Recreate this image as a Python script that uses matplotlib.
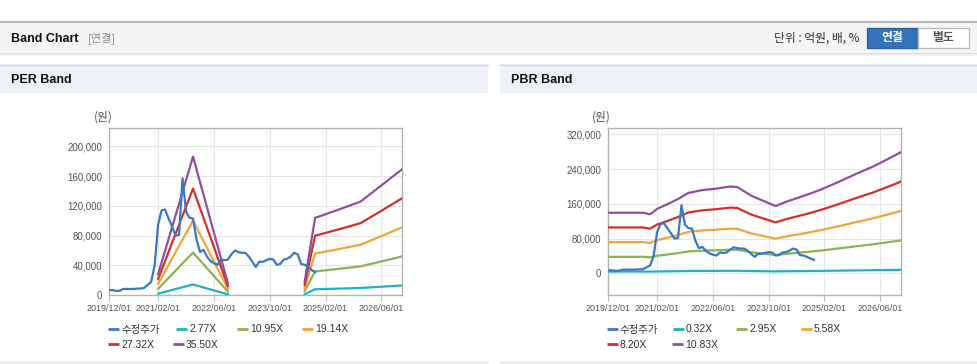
import matplotlib
matplotlib.use('Agg')
import matplotlib.pyplot as plt
import numpy as np
from matplotlib.patches import Rectangle
from matplotlib.ticker import FuncFormatter

plt.rcParams['font.family'] = ['Liberation Sans', 'Noto Sans CJK KR', 'DejaVu Sans']

W, H = 978, 364

# ---------------- data ----------------
# month index: 0 = 2019/12
price_months = list(range(0, 60))
price = [7000, 7000, 6000, 6000, 8500, 8500, 8500, 8500, 9000, 9000,
         10000, 14000, 18000, 40000, 95000, 114000, 115000, 103000, 92000, 80000,
         81000, 157000, 112000, 104000, 103000, 75000, 58000, 61000, 52000, 46000,
         43000, 41000, 48000, 47000, 48000, 55000, 60000, 58000, 57000, 57000,
         52000, 45000, 38000, 45000, 45000, 47000, 49000, 48000, 41000, 42000,
         48000, 49000, 52000, 57000, 55000, 42000, 41000, 38000, 34000, 31000]

tick_months = [0, 14, 30, 46, 62, 78]
tick_labels = ['2019/12/01', '2021/02/01', '2022/06/01', '2023/10/01', '2025/02/01', '2026/06/01']

eps_months = [14, 24, 34, 45, 56, 59, 60, 66, 72, 78, 84]
eps = [800, 5240, 450, np.nan, 510, 2930, 2970, 3250, 3540, 4150, 4770]
per_multiples = [2.77, 10.95, 19.14, 27.32, 35.50]

bps_months = [0, 10, 12, 14, 17, 20, 23, 27, 31, 35, 37, 41, 48, 51, 57, 61, 66, 71, 76, 80, 84]
bps = [12880, 12880, 12550, 13700, 14700, 15800, 17100, 17700, 18000, 18450, 18350, 16500,
       14300, 15200, 16700, 17800, 19400, 21100, 22700, 24200, 25750]
pbr_multiples = [0.32, 2.95, 5.58, 8.20, 10.83]

price_label = '수정주가'
band_colors = ['#1fb1c6', '#8cb352', '#f4a53a', '#d42f2a', '#924f9e']
price_color = '#3a77c9'

KR = ['Noto Sans CJK KR', 'DejaVu Sans']

fig = plt.figure(figsize=(W / 100, H / 100), dpi=100)
fig.patch.set_facecolor('white')

# overlay in pixel coords
ov = fig.add_axes([0, 0, 1, 1], zorder=0)
ov.set_xlim(0, W)
ov.set_ylim(H, 0)
ov.axis('off')

# header bar
ov.add_patch(Rectangle((0, 21), W, 31, fc='#f5f5f5', ec='none'))
ov.plot([0, W], [21.5, 21.5], color='#b9b9b9', lw=1.5)
ov.plot([0, W], [52.5, 52.5], color='#dcdcdc', lw=1)
ov.add_patch(Rectangle((0, 53), W, 3, fc='#f3f3f3', ec='none'))
ov.text(11, 38.5, 'Band Chart', fontsize=9, fontweight='bold', color='#111', va='center', ha='left')
ov.text(88, 38.5, '[연결]', fontsize=8, color='#8a8a8a', va='center', ha='left', family=KR)
ov.text(859, 38.5, '단위 : 억원, 배, %', fontsize=8.5, color='#333', va='center', ha='right', family=KR)
ov.add_patch(Rectangle((866.5, 28), 51, 19.5, fc='#3473b7', ec='#2b62a0', lw=1))
ov.text(892, 37.8, '연결', fontsize=8.5, fontweight='bold', color='white', va='center', ha='center', family=KR)
ov.add_patch(Rectangle((917.5, 28), 51, 19.5, fc='white', ec='#bdbdbd', lw=1))
ov.text(943, 37.8, '별도', fontsize=8.5, fontweight='bold', color='#555', va='center', ha='center', family=KR)

# panel headers
for x0, x1, title in [(0, 488, 'PER Band'), (500, W, 'PBR Band')]:
    ov.add_patch(Rectangle((x0, 64), x1 - x0, 29, fc='#eef2f7', ec='none'))
    ov.plot([x0, x1], [64.5, 64.5], color='#d6d6d6', lw=1)
    ov.plot([x0, x1], [361.5, 361.5], color='#e0e0e0', lw=1)
    ov.text(x0 + 11, 80, title, fontsize=9, fontweight='bold', color='#111', va='center', ha='left')


def style_axes(ax, yticks, ylim):
    ax.set_xlim(0, 84)
    ax.set_ylim(*ylim)
    ax.set_xticks(tick_months)
    ax.set_xticklabels(tick_labels)
    ax.set_yticks(yticks)
    ax.yaxis.set_major_formatter(FuncFormatter(lambda v, p: f'{int(v):,}'))
    ax.grid(True, color='#e6e6e6', lw=0.8)
    ax.set_axisbelow(True)
    for s in ax.spines.values():
        s.set_color('#b3b3b3')
        s.set_linewidth(1)
    ax.tick_params(axis='x', length=4, color='#c0c0c0', labelsize=6.5, labelcolor='#555', pad=2)
    ax.tick_params(axis='y', length=0, labelsize=7, labelcolor='#555', pad=5)


def draw_panel(ax, knots_m, base, multiples, yticks, ylim):
    style_axes(ax, yticks, ylim)
    ax.plot(price_months, price, color=price_color, lw=1.6, zorder=5)
    base_arr = np.array(base, dtype=float)
    for mult, col in zip(multiples, band_colors):
        ax.plot(knots_m, base_arr * mult, color=col, lw=1.6, zorder=4)


def fig_rect(l, r, t, b):
    return [l / W, 1 - b / H, (r - l) / W, (b - t) / H]


ax1 = fig.add_axes(fig_rect(109.3, 402.3, 128.3, 295.3), zorder=2)
draw_panel(ax1, eps_months, eps, per_multiples,
           [0, 40000, 80000, 120000, 160000, 200000], (0, 224000))
ax2 = fig.add_axes(fig_rect(608.3, 901, 128.3, 295.3), zorder=2)
draw_panel(ax2, bps_months, bps, pbr_multiples,
           [0, 80000, 160000, 240000, 320000], (-50500, 333800))

# unit labels
ov.text(103, 117, '(원)', fontsize=8.5, color='#555', ha='center', va='center', family=KR, zorder=3)
ov.text(601, 117, '(원)', fontsize=8.5, color='#555', ha='center', va='center', family=KR, zorder=3)

# legends (pixel layout)
def legend(entries):
    for (x, y, label, col) in entries:
        ov.plot([x, x + 11], [y, y], color=col, lw=2, solid_capstyle='butt')
        ov.text(x + 13, y + 0.5, label, fontsize=7.5, color='#333', va='center', ha='left',
                family=['Liberation Sans', 'Noto Sans CJK KR', 'DejaVu Sans'])

per_labels = [f'{m:.2f}X' for m in per_multiples]
pbr_labels = [f'{m:.2f}X' for m in pbr_multiples]
legend([(108, 329, price_label, price_color), (176, 329, per_labels[0], band_colors[0]),
        (237, 329, per_labels[1], band_colors[1]), (302, 329, per_labels[2], band_colors[2]),
        (108, 344, per_labels[3], band_colors[3]), (173, 344, per_labels[4], band_colors[4])])
legend([(607, 329, price_label, price_color), (673, 329, pbr_labels[0], band_colors[0]),
        (736, 329, pbr_labels[1], band_colors[1]), (801, 329, pbr_labels[2], band_colors[2]),
        (607, 344, pbr_labels[3], band_colors[3]), (672, 344, pbr_labels[4], band_colors[4])])

fig.savefig('out.png', dpi=100)
